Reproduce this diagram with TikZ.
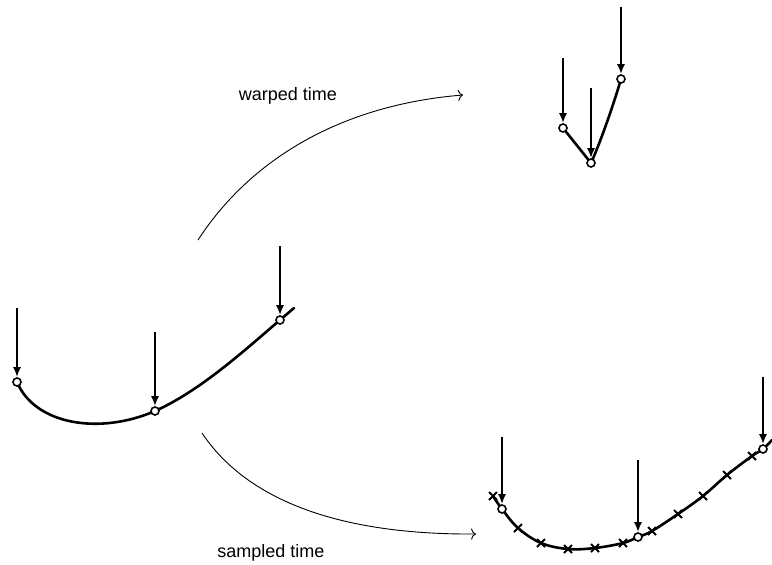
\documentclass[tikz,border=0pt]{standalone}
\usepackage{fontspec}
\setmainfont{Liberation Sans}
\usetikzlibrary{arrows.meta, shapes.misc}

\begin{document}
\begin{tikzpicture}[
    x=1pt,
    y=-1pt,
    font=\fontsize{18}{20}\selectfont,
    curve/.style={line width=2.6pt, line cap=round},
    force/.style={-{Latex[length=10pt, width=8pt]}, line width=2.8pt},
    sample/.style={circle, draw, line width=1.6pt, fill=white, inner sep=0pt, minimum size=8pt},
    tick/.style={cross out, draw, line width=2pt, inner sep=0pt, minimum size=6pt},
    warp/.style={-{To[length=5pt, width=11pt]}, line width=0.9pt}
]
\useasboundingbox (0,0) rectangle (772,565);
% original curve
\draw[curve] (17,382) .. controls (35,425) and (100,435) .. (155,411)
    .. controls (200,391) and (245,350) .. (280,320) -- (294,308);
\node[sample] (a1) at (17,382) {};
\node[sample] (a2) at (155,411) {};
\node[sample] (a3) at (280,320) {};
\draw[force] ([yshift=74pt]a1.center) -- (a1);
\draw[force] ([yshift=79pt]a2.center) -- (a2);
\draw[force] ([yshift=74pt]a3.center) -- (a3);
% warped time
\draw[curve] (563,128) -- (591,163) .. controls (598,148) and (612,110) .. (621,79);
\node[sample] (w1) at (563,128) {};
\node[sample] (w2) at (591,163) {};
\node[sample] (w3) at (621,79) {};
\draw[force] ([yshift=70pt]w1.center) -- (w1);
\draw[force] ([yshift=75pt]w2.center) -- (w2);
\draw[force] ([yshift=72pt]w3.center) -- (w3);
% sampled time
\draw[curve] plot[smooth, tension=0.6] coordinates {(493,496) (502,509) (518,528) (541,543) (568,549)
    (595,548) (623,543) (638,537) (652,531) (678,514) (703,496) (727,475) (752,456) (763,449) (772,440)};
\foreach \i/\p in {1/{(493,496)}, 2/{(518,528)}, 3/{(541,543)}, 4/{(568,549)}, 5/{(595,548)},
    6/{(623,543)}, 7/{(652,531)}, 8/{(678,514)}, 9/{(703,496)}, 10/{(727,475)}, 11/{(752,456)}}
    \node[tick] (t\i) at \p {};
\node[sample] (c1) at (502,509) {};
\node[sample] (c2) at (638,537) {};
\node[sample] (c3) at (763,449) {};
\draw[force] ([yshift=72pt]c1.center) -- (c1);
\draw[force] ([yshift=77pt]c2.center) -- (c2);
\draw[force] ([yshift=72pt]c3.center) -- (c3);
% mappings
\coordinate (warpstart) at (198,240);
\coordinate (warpend) at (463,95);
\coordinate (sampstart) at (202,433);
\coordinate (sampend) at (476,534);
\draw[warp] (warpstart) .. controls (250,160) and (340,105) .. (warpend);
\draw[warp] (sampstart) .. controls (240,490) and (320,535) .. (sampend);
\node (warplabel) at (288,96) {warped time};
\node (samplabel) at (271,553) {sampled time};
\end{tikzpicture}
\end{document}
